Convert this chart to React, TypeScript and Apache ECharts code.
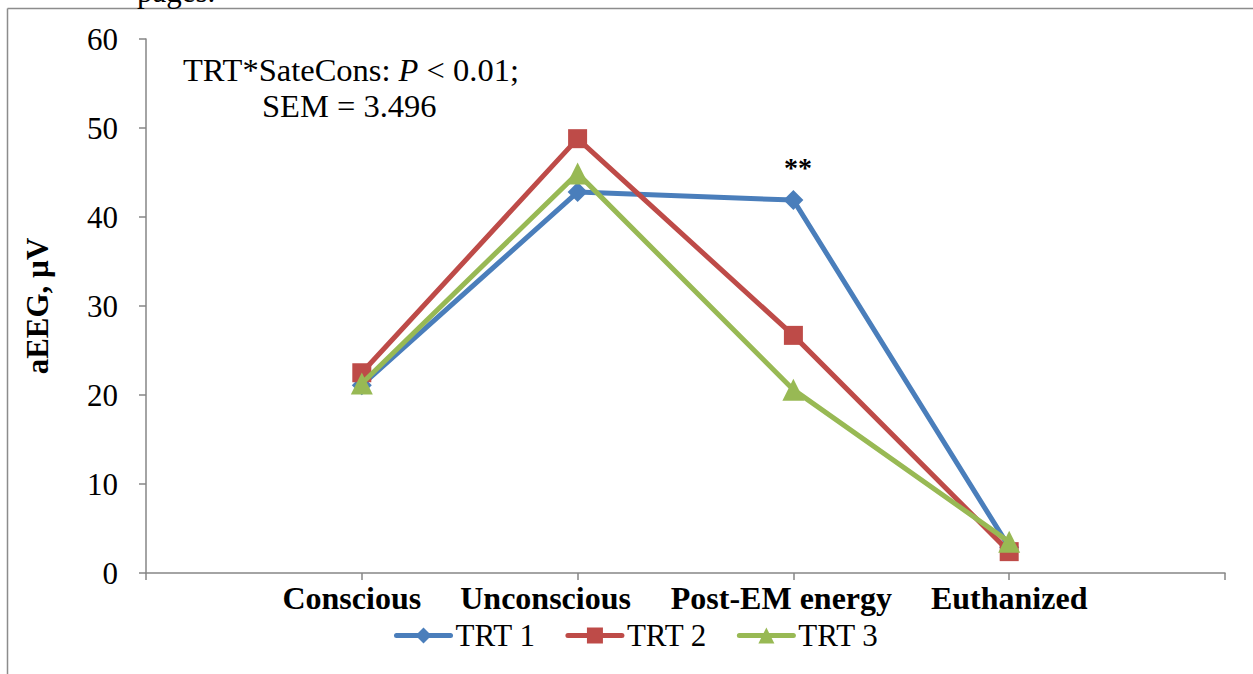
import React, { useEffect, useRef } from "react";
import * as echarts from "echarts";

// Stages (blank slots at both ends keep the axis padded like the original layout)
const categories = ["", "Conscious", "Unconscious", "Post-EM energy", "Euthanized", ""];
const trt1 = [null, 21.1, 42.8, 41.9, 2.9, null];
const trt2 = [null, 22.5, 48.8, 26.7, 2.4, null];
const trt3 = [null, 21.3, 44.9, 20.6, 3.5, null];
const seriesNames = ["TRT 1", "TRT 2", "TRT 3"];
const seriesColors = ["#4a7ebb", "#be4b48", "#98b954"];
const markers = ["diamond", "rect", "triangle"];
const markerSizes = [20, 19, 22];
const yTicks = { min: 0, max: 60, interval: 10 };

// Horizontal nudge (px, leftwards) for each category label
const labelShift = [0, 10, 32, 12, 0, 0];

const FONT = "'Liberation Serif', 'Times New Roman', serif";
const FS = 31;

export default function App() {
  const ref = useRef<HTMLDivElement>(null);

  useEffect(() => {
    if (!ref.current) return;
    const chart = echarts.init(ref.current, undefined, { renderer: "svg" });
    const data = [trt1, trt2, trt3];

    const labelRich: Record<string, any> = {};
    categories.forEach((_, i) => {
      labelRich["c" + i] = {
        fontFamily: FONT,
        fontSize: 32,
        fontWeight: "bold",
        color: "#000",
        padding: [0, labelShift[i] * 2, 0, 0],
      };
    });

    chart.setOption({
      animation: false,
      backgroundColor: "#ffffff",
      grid: { left: 146, right: 28, top: 39, bottom: 101 },
      xAxis: {
        type: "category",
        data: categories,
        boundaryGap: false,
        axisLine: { lineStyle: { color: "#868686", width: 1.5 } },
        axisTick: { show: true, interval: 0, length: 7, lineStyle: { color: "#868686", width: 1.5 } },
        axisLabel: {
          interval: 0,
          margin: 9,
          fontFamily: FONT,
          fontSize: 32,
          fontWeight: "bold",
          color: "#000",
          formatter: (v: string, i: number) => (v ? `{c${i}|${v}}` : ""),
          rich: labelRich,
        },
        splitLine: { show: false },
      },
      yAxis: {
        type: "value",
        min: yTicks.min,
        max: yTicks.max,
        interval: yTicks.interval,
        name: "aEEG, µV",
        nameLocation: "middle",
        nameGap: 93,
        nameTextStyle: { fontFamily: FONT, fontSize: 31, fontWeight: "bold", color: "#000" },
        axisLine: { show: true, lineStyle: { color: "#868686", width: 1.5 } },
        axisTick: { show: true, length: 7, lineStyle: { color: "#868686", width: 1.5 } },
        axisLabel: { margin: 28, fontFamily: FONT, fontSize: FS, color: "#000" },
        splitLine: { show: false },
      },
      legend: {
        bottom: 18,
        left: 389,
        itemWidth: 54,
        itemHeight: 20,
        itemGap: 30,
        lineStyle: { width: 5, cap: "round" },
        textStyle: { fontFamily: FONT, fontSize: FS, color: "#000" },
        data: seriesNames,
      },
      series: seriesNames.map((name, i) => ({
        name,
        type: "line",
        data: data[i],
        symbol: markers[i],
        symbolSize: markerSizes[i],
        showSymbol: true,
        connectNulls: false,
        lineStyle: { color: seriesColors[i], width: 5 },
        itemStyle: { color: seriesColors[i] },
        z: 2 + i,
      })),
      graphic: [
        {
          type: "line",
          shape: { x1: 7.5, y1: 8.5, x2: 1253, y2: 8.5 },
          style: { stroke: "#8c8c8c", lineWidth: 1.5 },
        },
        {
          type: "line",
          shape: { x1: 7.5, y1: 8.5, x2: 7.5, y2: 674 },
          style: { stroke: "#8c8c8c", lineWidth: 1.5 },
        },
        {
          type: "text",
          left: 137,
          top: -24,
          style: { text: "pages.", fontFamily: FONT, fontSize: FS, fill: "#000" },
        },
        {
          type: "text",
          left: 183,
          top: 53,
          style: {
            text: "TRT*SateCons: {i|P} < 0.01;",
            fontFamily: FONT,
            fontSize: 32.5,
            fill: "#000",
            rich: { i: { fontFamily: FONT, fontSize: 32.5, fontStyle: "italic", fill: "#000" } },
          },
        },
        {
          type: "text",
          left: 262,
          top: 89,
          style: { text: "SEM = 3.496", fontFamily: FONT, fontSize: 32.5, fill: "#000" },
        },
        {
          type: "text",
          left: 784,
          top: 153,
          style: { text: "**", fontFamily: FONT, fontSize: 28, fontWeight: "bold", fill: "#000" },
        },
      ],
    });

    return () => chart.dispose();
  }, []);

  return (
    <div
      ref={ref}
      style={{ position: "absolute", left: 0, top: 0, width: 1253, height: 674, background: "#fff" }}
    />
  );
}
